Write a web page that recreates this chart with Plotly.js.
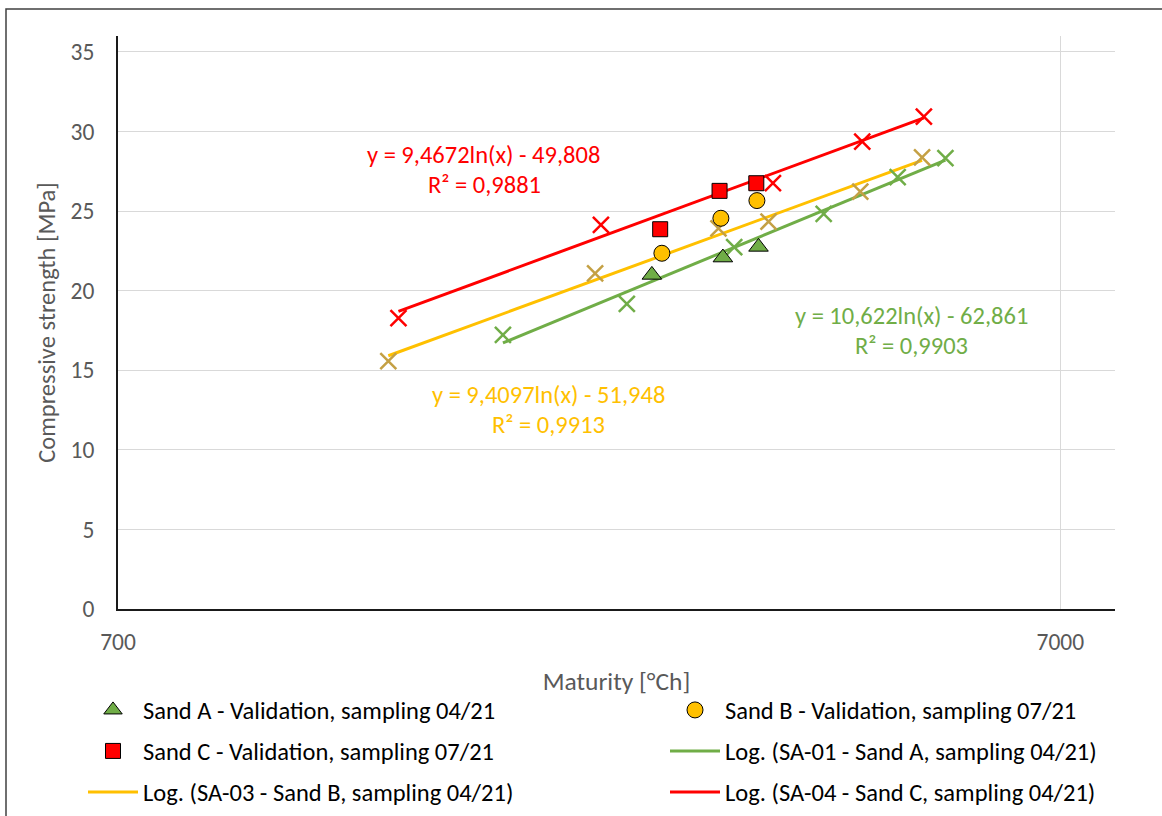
<!DOCTYPE html>
<html><head><meta charset="utf-8">
<script src="https://cdn.plot.ly/plotly-3.0.1.min.js"></script>
<style>html,body{margin:0;padding:0;background:#fff;overflow:hidden}#chart{width:1162px;height:816px}</style>
</head><body><div id="chart"></div>
<script>
// Calibration data (X markers)
const sa01X = [1793, 2427, 3155, 3926, 4704, 5286];
const sa01Y = [17.22, 19.17, 22.73, 24.82, 27.13, 28.32];
const sa03X = [1355, 2246, 3036, 3431, 4293, 4993];
const sa03Y = [15.58, 21.09, 23.92, 24.34, 26.22, 28.38];
const sa04X = [1389, 2278, 3468, 4314, 5015];
const sa04Y = [18.27, 24.13, 26.75, 29.37, 30.94];
// Validation data
const valAX = [2580, 3069, 3348];
const valAY = [20.99, 22.08, 22.75];
const valBX = [2644, 3054, 3335];
const valBY = [22.35, 24.55, 25.66];
const valCX = [2633, 3044, 3330];
const valCY = [23.86, 26.27, 26.75];
// Trendline coefficients y = a ln(x) + b, and R²
const fitA = [10.622, -62.861, 0.9903];
const fitB = [9.4097, -51.948, 0.9913];
const fitC = [9.4672, -49.808, 0.9881];
// Axis ticks
const xTicks = [700, 7000];
const yTicks = [0, 5, 10, 15, 20, 25, 30, 35];

const FONT = 'Carlito, Calibri, Lato, sans-serif';
const GREEN = '#70AD47', ORANGE = '#FFC000', RED = '#FF0000', TAN = '#C4A044';
const FS = 24.5;

function trend(xs, coef) {
  const lo = Math.log(Math.min(...xs)), hi = Math.log(Math.max(...xs));
  const X = [], Y = [];
  for (let i = 0; i <= 20; i++) {
    const lx = lo + (hi - lo) * i / 20;
    X.push(Math.exp(lx)); Y.push(coef[0] * lx + coef[1]);
  }
  return {x: X, y: Y};
}
const fmt = (v, d) => v.toFixed(d).replace('.', ',');
function eqText(c) {
  return 'y = ' + (c[0] >= 10 ? fmt(c[0], 3) : fmt(c[0], 4)) + 'ln(x) - ' + fmt(-c[1], 3);
}

const tA = trend(sa01X, fitA), tB = trend(sa03X, fitB), tC = trend(sa04X, fitC);
const xMark = (c) => ({symbol: 'x-thin', size: 16, line: {color: c, width: 2.5}, color: c});

const traces = [
  {x: tA.x, y: tA.y, mode: 'lines', line: {color: GREEN, width: 3}, name: 'Log. (SA-01 - Sand A, sampling 04/21)', legend: 'legend4'},
  {x: tB.x, y: tB.y, mode: 'lines', line: {color: ORANGE, width: 3}, name: 'Log. (SA-03 - Sand B, sampling 04/21)', legend: 'legend5'},
  {x: tC.x, y: tC.y, mode: 'lines', line: {color: RED, width: 3}, name: 'Log. (SA-04 - Sand C, sampling 04/21)', legend: 'legend6'},
  {x: sa01X, y: sa01Y, mode: 'markers', marker: xMark(GREEN), showlegend: false, name: 'SA-01'},
  {x: sa03X, y: sa03Y, mode: 'markers', marker: xMark(TAN), showlegend: false, name: 'SA-03'},
  {x: sa04X, y: sa04Y, mode: 'markers', marker: xMark(RED), showlegend: false, name: 'SA-04'},
  {x: valAX, y: valAY, mode: 'markers', marker: {symbol: 'triangle-up', size: 17, color: GREEN, line: {color: '#000', width: 1}}, name: 'Sand A - Validation, sampling 04/21', legend: 'legend'},
  {x: valBX, y: valBY, mode: 'markers', marker: {symbol: 'circle', size: 16, color: ORANGE, line: {color: '#000', width: 1}}, name: 'Sand B - Validation, sampling 07/21', legend: 'legend2'},
  {x: valCX, y: valCY, mode: 'markers', marker: {symbol: 'square', size: 15, color: RED, line: {color: '#000', width: 1}}, name: 'Sand C - Validation, sampling 07/21', legend: 'legend3'}
];

// pixel helpers for layout placement (plot area 118..1115 x 36..609)
const px = (p) => (p - 118) / 997;
const py = (p) => (609 - p) / 573;
function leg(xp, yp) {
  return {orientation: 'h', x: px(xp), y: py(yp), xanchor: 'left', yanchor: 'middle',
    font: {family: FONT, size: FS, color: '#000'}, bgcolor: 'rgba(0,0,0,0)', itemwidth: 50, borderwidth: 0};
}
function ann(text, xp, yp, color) {
  return {text: text, x: px(xp), y: py(yp), xref: 'paper', yref: 'paper', showarrow: false,
    xanchor: 'center', yanchor: 'middle', font: {family: FONT, size: FS, color: color}};
}

const layout = {
  width: 1162, height: 816,
  margin: {l: 118, r: 47, t: 36, b: 207, autoexpand: false},
  paper_bgcolor: '#fff', plot_bgcolor: '#fff',
  font: {family: FONT, size: FS, color: '#595959'},
  xaxis: {type: 'log', range: [Math.log10(700), Math.log10(8000)], tickvals: xTicks, ticktext: xTicks.map(String),
    showgrid: true, gridcolor: '#D9D9D9', gridwidth: 1, showline: true, linecolor: '#1a1a1a', linewidth: 2,
    ticks: '', ticklabelstandoff: 11, tickfont: {family: FONT, size: 23.5, color: '#595959'},
    title: {text: 'Maturity [°Ch]', font: {family: FONT, size: 25.5, color: '#595959'}, standoff: 17}},
  yaxis: {range: [0, 36], tickvals: yTicks, showgrid: true, gridcolor: '#D9D9D9', gridwidth: 1, zeroline: false,
    showline: true, linecolor: '#1a1a1a', linewidth: 2, ticks: '', ticklabelstandoff: 17,
    tickfont: {family: FONT, size: 23.5, color: '#595959'},
    title: {text: 'Compressive strength [MPa]', font: {family: FONT, size: 24.5, color: '#595959'}, standoff: 8}},
  legend: leg(83, 710), legend2: leg(665, 710),
  legend3: leg(83, 751), legend4: leg(665, 751),
  legend5: leg(83, 792), legend6: leg(665, 792),
  annotations: [
    ann(eqText(fitC), 483, 155, RED), ann('R² = ' + fmt(fitC[2], 4), 484, 185, RED),
    ann(eqText(fitB), 548, 395, ORANGE), ann('R² = ' + fmt(fitB[2], 4), 548, 425, ORANGE),
    ann(eqText(fitA), 911, 316, GREEN), ann('R² = ' + fmt(fitA[2], 4), 911, 346, GREEN)
  ],
  shapes: [{type: 'rect', xref: 'paper', yref: 'paper', x0: px(6), x1: px(1175), y0: py(830), y1: py(9),
    line: {color: '#404040', width: 1.5}, fillcolor: 'rgba(0,0,0,0)', layer: 'below'}],
  showlegend: true
};

Plotly.newPlot('chart', traces, layout, {displayModeBar: false, responsive: false});
</script></body></html>
